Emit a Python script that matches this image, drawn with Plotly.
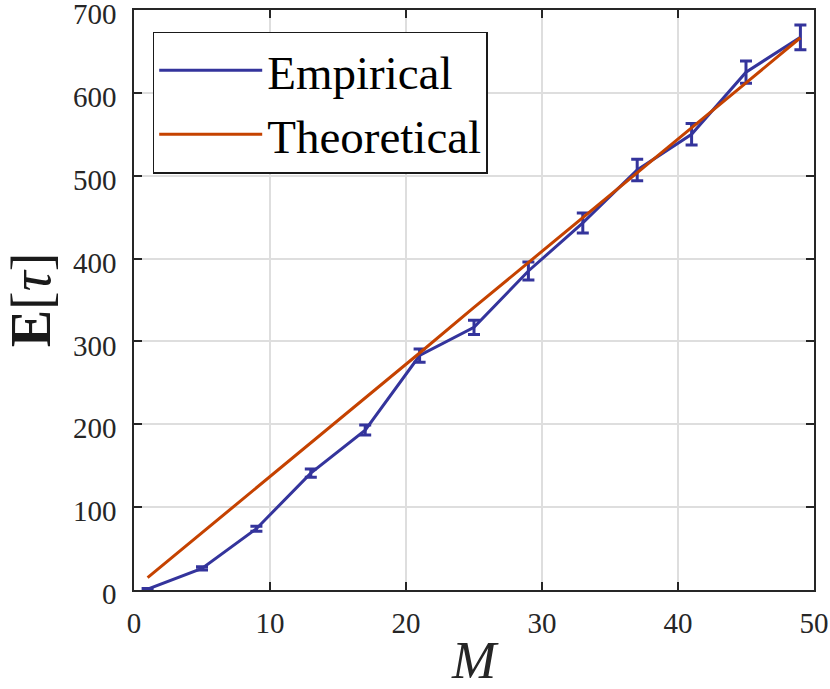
import plotly.graph_objects as go

M = [1, 5, 9, 13, 17, 21, 25, 29, 33, 37, 41, 45, 49]
empirical = [1, 26, 74, 141, 193, 283, 317, 385, 443, 507, 550, 625, 667]
emp_err = [0.7, 2, 3, 5, 6, 8, 8.5, 11, 12, 13, 13, 13.5, 15]
theoretical = [14.9, 69, 124, 178, 232, 286, 341, 395, 449, 503, 558, 612, 666.5]

x_ticks = [0, 10, 20, 30, 40, 50]
y_ticks = [0, 100, 200, 300, 400, 500, 600, 700]

BLUE = "#34349c"
ORANGE = "#c54200"
SERIF = "Liberation Serif, Times New Roman, serif"

fig = go.Figure()
fig.add_trace(go.Scatter(
    x=M, y=empirical, mode="lines", name="Empirical",
    line=dict(color=BLUE, width=3),
    error_y=dict(type="data", array=emp_err, visible=True, color=BLUE,
                 thickness=3, width=6),
))
fig.add_trace(go.Scatter(
    x=M, y=theoretical, mode="lines", name="Theoretical",
    line=dict(color=ORANGE, width=3),
))

axis_common = dict(
    showline=True, linecolor="#262626", linewidth=1.5, mirror="ticks",
    ticks="inside", ticklen=8, tickwidth=1.5, tickcolor="#262626",
    showgrid=True, gridcolor="#dedede", gridwidth=1.5, zeroline=False,
    tickfont=dict(family=SERIF, size=29, color="#262626"),
    automargin=False, ticklabeloverflow="allow",
)

fig.update_layout(
    width=830, height=689,
    margin=dict(l=134, r=16, t=10, b=99),
    paper_bgcolor="white", plot_bgcolor="white",
    showlegend=True,
    legend=dict(
        x=0.0275, y=0.9626, xanchor="left", yanchor="top",
        bgcolor="white", bordercolor="#1a1a1a", borderwidth=1.5,
        font=dict(family=SERIF, size=47, color="black"),
        itemwidth=103, tracegroupgap=0,
    ),
    xaxis=dict(
        range=[0, 50], tickvals=x_ticks, ticklabelstandoff=6,
        title=dict(text="<i>M</i>", font=dict(family=SERIF, size=53, color="#262626"),
                   standoff=11),
        **axis_common,
    ),
    yaxis=dict(
        range=[0, 700], tickvals=y_ticks, ticklabelstandoff=10, ticklabelshift=4,
        title=dict(text="<b>E</b>[<i>τ</i>]", font=dict(family=SERIF, size=56, color="#1a1a1a"),
                   standoff=14),
        **axis_common,
    ),
)

fig.write_html("out.html", config={"displayModeBar": False},
               post_script="document.body.style.margin='0px';")
